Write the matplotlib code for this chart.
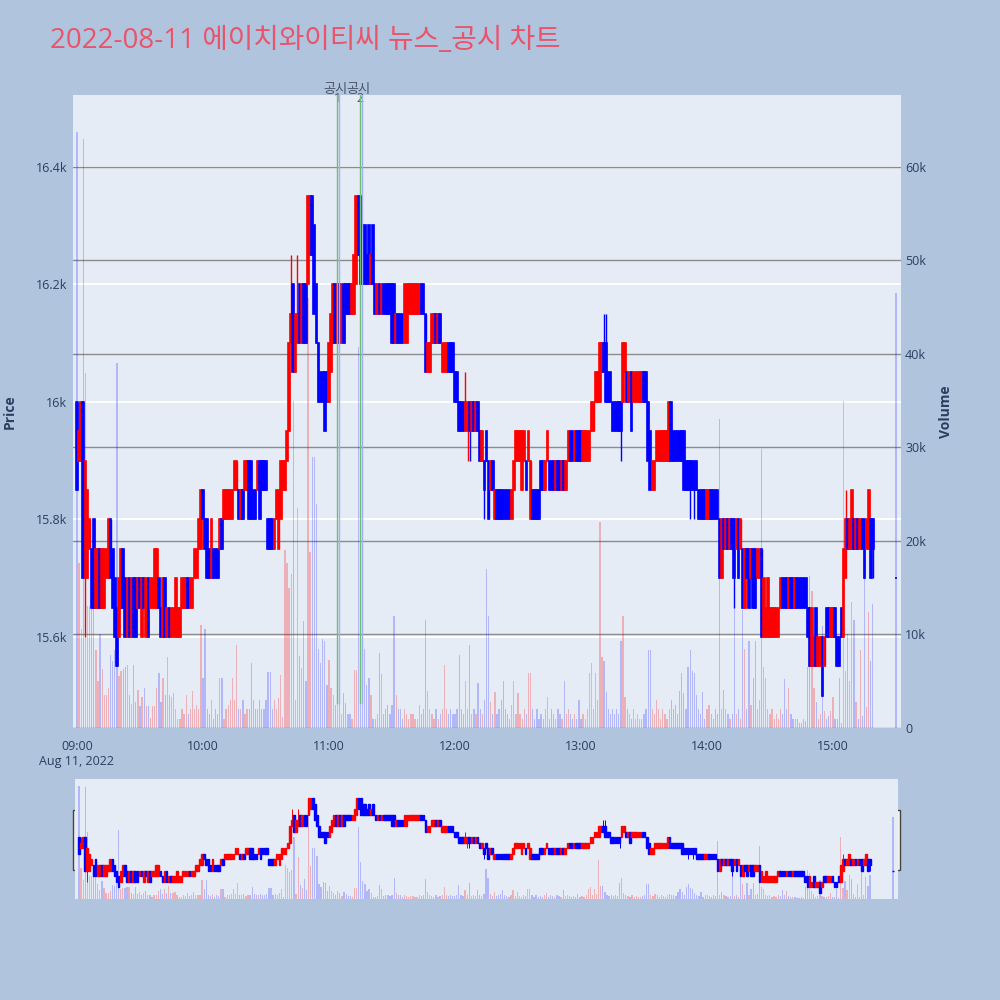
import matplotlib
matplotlib.use("Agg")
import matplotlib.pyplot as plt
import matplotlib.dates as mdates
import matplotlib.transforms as mtransforms
from matplotlib.patches import Rectangle
from matplotlib.lines import Line2D
import numpy as np
import pandas as pd

plt.rcParams['font.family'] = ['Open Sans', 'Noto Sans CJK KR', 'DejaVu Sans']

title = "2022-08-11 에이치와이티씨 뉴스_공시 차트"

# 1-minute candles 09:00 - 15:19, then the 15:30 closing auction
times = list(pd.date_range("2022-08-11 09:00", "2022-08-11 15:19", freq="min"))
times.append(pd.Timestamp("2022-08-11 15:30"))

opens = [
    16000, 15900, 15900, 16000, 15700, 15700, 15750, 15750, 15800, 15650,
    15650, 15750, 15650, 15650, 15700, 15700, 15800, 15750, 15700, 15650,
    15600, 15650, 15750, 15700, 15600, 15700, 15600, 15700, 15700, 15650,
    15700, 15600, 15700, 15600, 15700, 15650, 15650, 15650, 15650, 15700,
    15650, 15600, 15700, 15600, 15650, 15600, 15600, 15600, 15600, 15600,
    15650, 15650, 15650, 15700, 15650, 15650, 15700, 15700, 15750, 15750,
    15850, 15800, 15800, 15750, 15700, 15750, 15750, 15750, 15750, 15800,
    15800, 15800, 15800, 15800, 15800, 15850, 15850, 15850, 15800, 15850,
    15850, 15850, 15900, 15900, 15850, 15850, 15850, 15900, 15900, 15900,
    15900, 15800, 15800, 15800, 15750, 15800, 15750, 15800, 15850, 15850,
    15900, 15950, 16100, 16200, 16050, 16100, 16200, 16100, 16200, 16200,
    16200, 16250, 16350, 16300, 16200, 16100, 16050, 16050, 16050, 16050,
    16000, 16050, 16100, 16200, 16100, 16200, 16100, 16200, 16200, 16200,
    16200, 16150, 16150, 16200, 16350, 16350, 16300, 16300, 16250, 16300,
    16200, 16300, 16200, 16150, 16200, 16150, 16200, 16200, 16200, 16200,
    16200, 16200, 16100, 16150, 16150, 16150, 16100, 16100, 16150, 16150,
    16150, 16150, 16150, 16150, 16200, 16200, 16150, 16050, 16050, 16100,
    16100, 16150, 16100, 16150, 16050, 16050, 16050, 16100, 16100, 16100,
    16050, 16050, 16000, 16000, 16000, 15950, 15950, 16000, 15950, 16000,
    15950, 16000, 15950, 15900, 15900, 15950, 15900, 15850, 15900, 15800,
    15850, 15850, 15850, 15850, 15850, 15850, 15850, 15800, 15850, 15900,
    15900, 15900, 15850, 15900, 15900, 15900, 15800, 15850, 15850, 15850,
    15850, 15900, 15900, 15850, 15900, 15900, 15900, 15900, 15850, 15900,
    15900, 15850, 15900, 15850, 15900, 15950, 15950, 15900, 15950, 15950,
    15950, 15900, 15900, 15900, 15900, 15950, 15950, 16000, 16000, 16000,
    16050, 16100, 16100, 16050, 16050, 16000, 16000, 16000, 16000, 16000,
    16000, 16050, 16050, 16000, 16050, 16000, 16000, 16000, 16000, 16000,
    16050, 16050, 16000, 15950, 15850, 15850, 15900, 15900, 15900, 15900,
    15900, 15900, 15900, 16000, 15950, 15950, 15950, 15950, 15950, 15950,
    15900, 15900, 15900, 15900, 15900, 15900, 15850, 15850, 15850, 15850,
    15800, 15800, 15850, 15850, 15850, 15850, 15800, 15700, 15800, 15750,
    15800, 15750, 15800, 15800, 15750, 15800, 15750, 15750, 15650, 15750,
    15750, 15700, 15750, 15750, 15700, 15700, 15750, 15600, 15600, 15600,
    15600, 15600, 15600, 15600, 15600, 15650, 15700, 15700, 15700, 15650,
    15700, 15700, 15650, 15700, 15700, 15700, 15700, 15700, 15650, 15650,
    15550, 15550, 15650, 15550, 15550, 15600, 15550, 15650, 15650, 15600,
    15600, 15650, 15600, 15600, 15650, 15600, 15700, 15800, 15750, 15750,
    15800, 15750, 15800, 15750, 15800, 15800, 15750, 15750, 15800, 15800,
    15700,
]

closes = [
    15850, 15950, 16000, 15700, 15900, 15850, 15800, 15650, 15650, 15750,
    15750, 15650, 15750, 15750, 15750, 15800, 15700, 15650, 15600, 15550,
    15700, 15750, 15650, 15600, 15700, 15600, 15700, 15600, 15600, 15700,
    15650, 15700, 15650, 15700, 15600, 15700, 15700, 15750, 15750, 15650,
    15600, 15700, 15600, 15650, 15600, 15650, 15650, 15700, 15650, 15650,
    15700, 15700, 15700, 15650, 15700, 15700, 15750, 15750, 15800, 15850,
    15800, 15750, 15700, 15700, 15800, 15700, 15700, 15700, 15800, 15750,
    15850, 15850, 15850, 15850, 15850, 15900, 15900, 15800, 15850, 15800,
    15900, 15900, 15800, 15800, 15800, 15800, 15900, 15800, 15850, 15850,
    15850, 15750, 15750, 15750, 15800, 15850, 15850, 15900, 15900, 15900,
    15950, 16100, 16150, 16050, 16150, 16150, 16100, 16200, 16100, 16100,
    16350, 16350, 16250, 16150, 16100, 16000, 16000, 16000, 15950, 16000,
    16100, 16150, 16200, 16100, 16200, 16100, 16200, 16100, 16150, 16150,
    16150, 16200, 16250, 16350, 16250, 16200, 16200, 16200, 16200, 16200,
    16250, 16200, 16150, 16200, 16150, 16200, 16150, 16150, 16150, 16150,
    16100, 16100, 16150, 16100, 16100, 16100, 16200, 16200, 16200, 16200,
    16200, 16200, 16200, 16200, 16150, 16150, 16050, 16100, 16100, 16150,
    16150, 16100, 16150, 16100, 16100, 16100, 16100, 16050, 16050, 16050,
    16000, 16000, 15950, 15950, 15950, 16000, 16000, 15950, 16000, 15950,
    16000, 15950, 15900, 15950, 15850, 15900, 15800, 15900, 15850, 15850,
    15800, 15800, 15800, 15800, 15800, 15800, 15800, 15850, 15900, 15950,
    15950, 15950, 15950, 15950, 15850, 15950, 15900, 15800, 15800, 15800,
    15800, 15850, 15850, 15900, 15950, 15850, 15850, 15850, 15900, 15850,
    15850, 15900, 15850, 15900, 15950, 15900, 15900, 15950, 15900, 15900,
    15900, 15950, 15950, 15950, 15950, 16000, 16000, 16050, 16050, 16100,
    16100, 16050, 16000, 16000, 16000, 15950, 15950, 15950, 15950, 15950,
    16100, 16100, 16000, 16050, 15950, 16050, 16050, 16050, 16050, 16050,
    16000, 16000, 15900, 15850, 15900, 15900, 15950, 15950, 15950, 15950,
    15950, 15950, 16000, 15900, 15900, 15900, 15900, 15900, 15900, 15850,
    15850, 15850, 15850, 15850, 15850, 15850, 15800, 15800, 15800, 15800,
    15850, 15850, 15800, 15800, 15800, 15800, 15700, 15800, 15750, 15800,
    15750, 15800, 15750, 15700, 15800, 15700, 15800, 15650, 15750, 15700,
    15650, 15750, 15650, 15650, 15750, 15750, 15600, 15700, 15650, 15700,
    15650, 15650, 15650, 15650, 15650, 15700, 15650, 15650, 15650, 15700,
    15650, 15650, 15700, 15650, 15650, 15650, 15650, 15650, 15600, 15550,
    15650, 15600, 15550, 15600, 15600, 15500, 15600, 15600, 15600, 15650,
    15650, 15600, 15550, 15550, 15600, 15750, 15800, 15750, 15800, 15850,
    15750, 15800, 15750, 15800, 15750, 15700, 15800, 15850, 15700, 15750,
    15700,
]

# candles whose wick reaches past the body
extra_high = {1: 16000, 102: 16250, 105: 16250, 185: 16050, 251: 16150,
              252: 16150, 366: 15850}
extra_low = {4: 15600, 186: 15900, 187: 15900, 194: 15800, 259: 15900,
             292: 15800, 294: 15800, 313: 15650, 379: 15700}

# volume in thousands of shares
volumes = [
    63.7, 17.6, 10.6, 63.0, 38.0, 13.0, 13.0, 12.8, 12.8, 8.3,
    5.0, 10.0, 6.3, 3.5, 3.5, 4.3, 7.8, 7.2, 8.3, 39.0,
    5.6, 6.1, 6.3, 6.5, 6.7, 3.5, 2.6, 6.7, 2.8, 4.1,
    2.4, 3.3, 4.3, 2.4, 2.4, 1.1, 2.4, 2.4, 4.3, 5.9,
    2.8, 5.4, 3.5, 7.6, 3.5, 3.3, 3.7, 2.0, 1.0, 1.0,
    2.0, 1.5, 3.5, 1.5, 2.0, 4.0, 2.0, 2.5, 2.0, 11.0,
    5.4, 10.6, 2.0, 1.5, 3.0, 1.0, 2.0, 1.5, 5.4, 5.4,
    1.0, 2.0, 2.5, 3.0, 5.4, 3.0, 8.9, 2.0, 2.0, 3.0,
    1.5, 2.0, 2.0, 7.0, 3.0, 2.0, 2.0, 3.0, 2.0, 2.0,
    3.0, 6.0, 6.0, 2.0, 3.0, 2.0, 3.2, 5.7, 1.2, 19.0,
    17.7, 15.0, 16.5, 35.0, 3.0, 23.5, 7.7, 6.4, 11.4, 5.0,
    46.0, 18.8, 29.0, 29.0, 24.0, 8.5, 7.0, 9.5, 9.3, 4.6,
    7.3, 4.3, 3.5, 2.5, 4.6, 3.2, 1.5, 3.7, 2.7, 1.5,
    1.5, 1.0, 6.2, 6.2, 40.7, 20.6, 10.0, 8.5, 4.6, 5.4,
    3.5, 1.0, 1.0, 1.5, 8.0, 5.8, 1.5, 2.0, 2.5, 1.5,
    2.5, 12.0, 3.5, 2.0, 2.0, 1.0, 2.0, 1.5, 1.0, 1.5,
    1.5, 1.0, 1.0, 2.5, 1.5, 2.0, 11.5, 4.0, 2.0, 1.5,
    1.0, 2.0, 1.0, 1.5, 2.0, 6.7, 2.0, 1.5, 2.0, 1.5,
    1.5, 2.0, 7.8, 2.0, 1.5, 5.0, 2.0, 8.9, 1.5, 2.0,
    1.5, 4.8, 2.0, 1.5, 3.0, 17.0, 12.0, 2.8, 1.5, 3.9,
    1.5, 2.0, 3.0, 5.0, 2.0, 1.5, 1.0, 2.5, 5.0, 1.5,
    3.7, 1.5, 1.0, 2.0, 1.5, 5.9, 5.9, 2.0, 1.0, 2.0,
    1.0, 1.5, 1.0, 2.0, 3.3, 1.0, 2.0, 1.5, 1.0, 2.0,
    1.5, 1.0, 5.0, 1.5, 2.0, 1.5, 1.0, 1.5, 1.0, 3.0,
    1.0, 1.5, 1.0, 2.0, 5.9, 7.0, 2.0, 5.9, 3.0, 22.0,
    7.6, 7.2, 3.9, 2.0, 1.5, 2.0, 1.5, 2.0, 1.5, 9.3,
    12.0, 3.3, 2.0, 1.5, 1.0, 2.0, 1.0, 1.5, 1.0, 1.0,
    1.5, 2.0, 8.3, 8.3, 2.0, 1.5, 3.0, 2.0, 1.0, 2.0,
    1.5, 1.0, 2.0, 3.0, 2.0, 2.5, 1.5, 4.0, 5.9, 3.7,
    2.0, 6.5, 8.3, 6.1, 5.9, 3.5, 2.0, 1.5, 3.9, 1.0,
    2.0, 2.5, 1.5, 1.0, 2.0, 1.5, 33.0, 2.0, 4.1, 2.0,
    1.5, 1.0, 1.5, 12.8, 1.5, 2.0, 1.0, 12.6, 8.5, 2.0,
    9.3, 2.5, 5.4, 9.3, 2.0, 3.0, 29.8, 6.5, 5.4, 2.0,
    1.5, 2.0, 1.0, 1.5, 1.0, 2.0, 1.5, 5.2, 2.0, 4.3,
    1.5, 1.0, 1.0, 1.0, 0.5, 0.5, 1.0, 0.8, 6.5, 16.3,
    14.6, 4.3, 2.8, 1.0, 1.5, 10.9, 1.8, 1.0, 1.3, 1.8,
    3.3, 1.0, 1.0, 5.4, 0.5, 35.0, 6.1, 10.0, 5.0, 13.5,
    11.5, 2.8, 1.0, 8.3, 1.3, 16.0, 2.2, 12.4, 7.2, 13.3,
    46.5,
]

notice_times = ["2022-08-11 11:04", "2022-08-11 11:15"]
notice_nums = ["1", "2"]

price_ticks = [15600, 15800, 16000, 16200, 16400]
price_labels = ["15.6k", "15.8k", "16k", "16.2k", "16.4k"]
vol_ticks = [0, 10, 20, 30, 40, 50, 60]
vol_labels = ["0", "10k", "20k", "30k", "40k", "50k", "60k"]
hour_ticks = ["09:00", "10:00", "11:00", "12:00", "13:00", "14:00", "15:00"]

BG = "#B0C4DE"
PLOT_BG = "#E5ECF6"
TXT = "#2a3f5f"

o = np.array(opens)
c = np.array(closes)
hi = np.maximum(o, c)
lo = np.minimum(o, c)
for i, v in extra_high.items():
    hi[i] = max(hi[i], v)
for i, v in extra_low.items():
    lo[i] = min(lo[i], v)
up = c > o
cols = np.where(up, "#ff0000", "#0000ff")
vcols = [(1, 0, 0, 0.25) if u else (0, 0, 1, 0.22) for u in up]

x = mdates.date2num(times)
one_min = 1 / 1440.0
x0 = mdates.date2num(pd.Timestamp("2022-08-11 09:00"))
xlim = (x0 - 1.9 * one_min, x0 + 392.4 * one_min)
plim = (15445, 16522)
vlim = (0, 67.7)


def draw(ax, axv, body_lw, wick_lw, vol_w):
    axv.bar(x, volumes, width=vol_w * one_min, color=vcols, linewidth=0, zorder=1)
    ax.vlines(x, lo, hi, colors=cols, linewidth=wick_lw, zorder=3)
    ax.bar(x, np.abs(c - o), bottom=np.minimum(o, c), width=0.8 * one_min,
           color=cols, edgecolor=cols, linewidth=body_lw, zorder=3)
    ax.set_xlim(*xlim)
    ax.set_ylim(*plim)
    axv.set_ylim(*vlim)
    ax.set_zorder(2)
    axv.set_zorder(1)
    ax.patch.set_visible(False)
    axv.patch.set_visible(True)
    axv.patch.set_facecolor(PLOT_BG)
    for a in (ax, axv):
        for s in a.spines.values():
            s.set_visible(False)


fig = plt.figure(figsize=(10, 10), dpi=100, facecolor=BG)

# main chart: price on the left, volume on the right
axv = fig.add_axes([0.073, 0.272, 0.828, 0.633])
ax = axv.twinx()
draw(ax, axv, 1.2, 1.0, 0.6)

ax.yaxis.tick_left()
ax.yaxis.set_label_position("left")
axv.yaxis.tick_right()
axv.yaxis.set_label_position("right")

ax.set_yticks(price_ticks, price_labels)
axv.set_yticks(vol_ticks, vol_labels)
# grids: white price grid under the grey volume grid, both under every trace
axv.yaxis.grid(True, color="#8c8c8c", linewidth=1.0)
axv.set_axisbelow(True)
price_tf = mtransforms.blended_transform_factory(axv.transAxes, ax.transData)
for p in price_ticks:
    axv.add_line(Line2D([0, 1], [p, p], transform=price_tf, color="white",
                        linewidth=1.3, zorder=0.4))

hours = mdates.date2num([pd.Timestamp("2022-08-11 " + h) for h in hour_ticks])
xlabels = [hour_ticks[0] + "\nAug 11, 2022"] + hour_ticks[1:]
axv.set_xticks(hours, xlabels)

ax.tick_params(axis="y", length=0, pad=4, labelsize=9, labelcolor=TXT)
axv.tick_params(axis="y", length=0, pad=3, labelsize=9, labelcolor=TXT)
axv.tick_params(axis="x", length=0, pad=9, labelsize=9, labelcolor=TXT)

ax.set_ylabel("Price", fontsize=10, fontweight="bold", color=TXT)
ax.yaxis.set_label_coords(-0.0676, 0.5)
axv.set_ylabel("Volume", fontsize=10, fontweight="bold", color=TXT)
axv.yaxis.set_label_coords(1.046, 0.5)

# disclosure markers
for t, n in zip(notice_times, notice_nums):
    xt = mdates.date2num(pd.Timestamp(t))
    ax.axvline(xt, ymin=0.04, ymax=1, color="#6fbf6f", linewidth=1, zorder=4)
    ax.axvline(xt + 0.6 * one_min, ymin=0.04, ymax=1, color="#9fb0f0",
               linewidth=1, zorder=4)
    ax.annotate("공시", xy=(xt, 1), xycoords=("data", "axes fraction"),
                xytext=(-2, 6), textcoords="offset pixels", ha="center",
                va="center", fontsize=9.5, color="#4a5566")
    ax.annotate(n, xy=(xt, 1), xycoords=("data", "axes fraction"),
                xytext=(0, -3), textcoords="offset pixels", ha="center",
                va="center", fontsize=9, color="#4a5566")

# range slider
axsv = fig.add_axes([0.075, 0.101, 0.823, 0.120])
axs = axsv.twinx()
draw(axs, axsv, 1.0, 0.7, 0.6)
for a in (axs, axsv):
    a.set_xticks([])
    a.set_yticks([])
for hx in (0.0733, 0.8955):
    fig.add_artist(Rectangle((hx, 0.130), 0.0042, 0.060, transform=fig.transFigure,
                             facecolor="#f2f2f2", edgecolor="#444444", linewidth=1))

fig.text(0.05, 0.959, title, fontsize=20, color="#E9546B", ha="left", va="center")

fig.savefig("out.png", dpi=100, facecolor=BG)
